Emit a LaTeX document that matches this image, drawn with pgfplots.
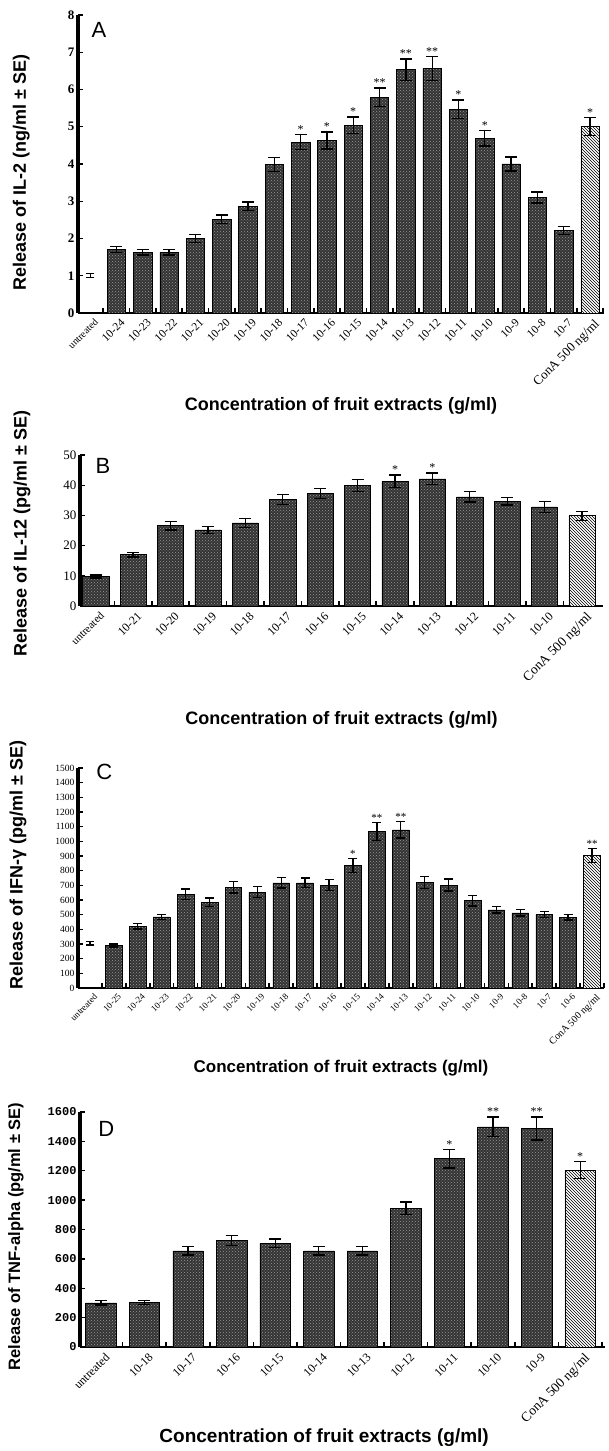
\documentclass[border=0pt]{standalone}
\usepackage{pgfplots}
\pgfplotsset{compat=1.18}
\usepackage{pgfplotstable}
\usetikzlibrary{patterns}
\usepackage{fontspec}
\setmainfont{Liberation Serif}
\setsansfont{Liberation Sans}
\setmonofont{Liberation Mono}

\newcommand{\fs}[1]{\fontsize{#1}{#1}\selectfont}
\newcommand{\labfont}{\fontsize{18}{18}\selectfont\sffamily\bfseries}
\newcommand{\letfont}{\fontsize{22}{22}\selectfont\sffamily}

\pgfplotsset{
  common/.style={scale only axis, anchor=south west, clip=false, enlargelimits=false,
    axis x line*=bottom, axis y line*=left,
    axis line style={-},
    x axis line style={line width=2.5pt},
    y axis line style={line width=3.5pt},
    every outer x axis line/.append style={-}, every outer y axis line/.append style={-},
    tick align=inside,
    major x tick style={draw=none},
    minor x tick style={line width=1.6pt, black},
    minor tick length=4.5pt,
    major y tick style={line width=1.3pt, black},
    major tick length=5pt,
    /pgf/number format/assume math mode=true,
    /pgf/number format/1000 sep={},
    x tick label style={rotate=45, anchor=north east, inner sep=1pt, yshift=-5pt},
  },
  darkbar/.style={ybar, bar width=0.7, bar shift=0pt, draw=black, line width=0.6pt, fill=black!80,
    postaction={pattern=crosshatch dots, pattern color=black!40},
    error bars/.cd, y dir=both, y explicit,
    error bar style={line width=1.3pt, draw=black},
    error mark options={rotate=90, mark size=#1, line width=1.3pt, draw=black}},
  conabar/.style={ybar, bar width=0.7, bar shift=0pt, draw=black, line width=0.6pt, fill=white,
    postaction={pattern=north west lines, pattern color=black},
    error bars/.cd, y dir=both, y explicit,
    error bar style={line width=1.3pt, draw=black},
    error mark options={rotate=90, mark size=#1, line width=1.3pt, draw=black}},
  hbar/.style={draw=none, mark=none,
    error bars/.cd, y dir=both, y explicit,
    error bar style={line width=1.2pt, draw=black},
    error mark options={rotate=90, mark size=4pt, line width=1.2pt, draw=black}},
  starsty/.style={draw=none, mark=none, nodes near coords, point meta=explicit symbolic,
    nodes near coords style={anchor=south, inner sep=1pt, font=#1}},
}

% ---------- Panel A (IL-2) ----------
\pgfplotstableread{
x y e
1 1.70 0.08
2 1.63 0.07
3 1.63 0.07
4 2.00 0.10
5 2.52 0.11
6 2.87 0.11
7 3.98 0.19
8 4.59 0.20
9 4.63 0.23
10 5.04 0.22
11 5.79 0.25
12 6.53 0.29
13 6.57 0.32
14 5.47 0.25
15 4.69 0.21
16 4.00 0.19
17 3.10 0.15
18 2.22 0.11
}\barsA
\pgfplotstableread{
x y s
8 4.79 *
9 4.86 *
10 5.26 *
11 6.04 **
12 6.82 **
13 6.89 **
14 5.72 *
15 4.90 *
19 5.25 *
}\starsA

% ---------- Panel B (IL-12) ----------
\pgfplotstableread{
x y e
0 9.8 0.5
1 17.0 0.8
2 26.6 1.4
3 25.2 1.1
4 27.5 1.4
5 35.3 1.6
6 37.2 1.7
7 40.0 2.0
8 41.3 2.1
9 42.1 1.9
10 36.1 1.7
11 34.7 1.3
12 32.8 1.8
}\barsB
\pgfplotstableread{
x y s
8 43.4 *
9 44.0 *
}\starsB

% ---------- Panel C (IFN-gamma) ----------
\pgfplotstableread{
x y e
1 290 10
2 420 18
3 485 18
4 640 35
5 584 29
6 687 39
7 654 37
8 716 35
9 716 33
10 702 37
11 835 48
12 1068 60
13 1078 56
14 718 41
15 702 41
16 595 35
17 533 22
18 512 22
19 500 20
20 481 18
}\barsC
\pgfplotstableread{
x y s
11 883 *
12 1128 **
13 1134 **
21 952 **
}\starsC

% ---------- Panel D (TNF-alpha) ----------
\pgfplotstableread{
x y e
0 300 15
1 304 14
2 654 28
3 725 35
4 706 30
5 654 28
6 654 28
7 946 42
8 1282 64
9 1499 66
10 1487 78
}\barsD
\pgfplotstableread{
x y s
8 1346 *
9 1565 **
10 1565 **
11 1264 *
}\starsD

\begin{document}
\begin{tikzpicture}
\useasboundingbox (0pt,0pt) rectangle (608pt,1451pt);

% ===== A =====
\begin{axis}[common, at={(78pt,1138pt)}, width=526pt, height=298pt,
  xmin=-0.46, xmax=19.53, ymin=0, ymax=8,
  ytick={0,...,8},
  y tick label style={font=\fs{13}\bfseries},
  xtick={0,...,19}, minor xtick={0.5,1.5,...,19.5},
  xticklabels={{\fs{10}untreated},10-24,10-23,10-22,10-21,10-20,10-19,10-18,10-17,10-16,10-15,10-14,10-13,10-12,10-11,10-10,10-9,10-8,10-7,{\fs{13}ConA 500 ng/ml}},
  x tick label style={font=\fs{11.5}},
  every axis y label/.style={at={(axis description cs:-0.108,0.47)}, rotate=90, anchor=center, font=\labfont},
  every axis x label/.style={at={(axis description cs:0.5,-0.312)}, anchor=center, font=\labfont},
  ylabel={Release of IL-2 (ng/ml ± SE)},
  xlabel={Concentration of fruit extracts (g/ml)},
]
\addplot[darkbar=6pt] table[x=x, y=y, y error=e] {\barsA};
\addplot[conabar=6pt] coordinates {(19,5.01) +- (0,0.24)};
\addplot[hbar] coordinates {(0,1.0) +- (0,0.05)};
\addplot[starsty={\fs{12}}] table[x=x, y=y, meta=s] {\starsA};
\node[font=\letfont] at (rel axis cs:0.04,0.95) {A};
\end{axis}

% ===== B =====
\begin{axis}[common, at={(80pt,845pt)}, width=523pt, height=151pt,
  xmin=-0.42, xmax=13.56, ymin=0, ymax=50,
  ytick={0,10,...,50},
  y tick label style={font=\fs{13}},
  xtick={0,...,13}, minor xtick={0.5,1.5,...,12.5},
  xticklabels={{\fs{11}untreated},10-21,10-20,10-19,10-18,10-17,10-16,10-15,10-14,10-13,10-12,10-11,10-10,{\fs{13.5}ConA 500 ng/ml}},
  x tick label style={font=\fs{12}},
  every axis y label/.style={at={(axis description cs:-0.111,0.48)}, rotate=90, anchor=center, font=\labfont},
  every axis x label/.style={at={(axis description cs:0.5,-0.755)}, anchor=center, font=\labfont},
  ylabel={Release of IL-12 (pg/ml ± SE)},
  xlabel={Concentration of fruit extracts (g/ml)},
]
\addplot[darkbar=6pt] table[x=x, y=y, y error=e] {\barsB};
\addplot[conabar=6pt] coordinates {(13,29.9) +- (0,1.5)};
\addplot[starsty={\fs{12}}] table[x=x, y=y, meta=s] {\starsB};
\node[font=\letfont] at (rel axis cs:0.044,0.93) {B};
\end{axis}

% ===== C =====
\begin{axis}[common, at={(78pt,463pt)}, width=526pt, height=220pt,
  xmin=-0.5, xmax=21.5, ymin=0, ymax=1500,
  ytick={0,100,...,1500},
  y tick label style={font=\fs{9.5}},
  xtick={0,...,21}, minor xtick={0.5,1.5,...,21.5},
  xticklabels={untreated,10-25,10-24,10-23,10-22,10-21,10-20,10-19,10-18,10-17,10-16,10-15,10-14,10-13,10-12,10-11,10-10,10-9,10-8,10-7,10-6,{\fs{10}ConA 500 ng/ml}},
  x tick label style={font=\fs{9}},
  every axis y label/.style={at={(axis description cs:-0.114,0.56)}, rotate=90, anchor=center, font=\labfont},
  every axis x label/.style={at={(axis description cs:0.5,-0.364)}, anchor=center, font=\fontsize{17}{17}\selectfont\sffamily\bfseries},
  ylabel={Release of IFN-γ (pg/ml ± SE)},
  xlabel={Concentration of fruit extracts (g/ml)},
]
\addplot[darkbar=4.5pt] table[x=x, y=y, y error=e] {\barsC};
\addplot[conabar=4.5pt] coordinates {(21,903) +- (0,49)};
\addplot[hbar] coordinates {(0,305) +- (0,12)};
\addplot[starsty={\fs{11}}] table[x=x, y=y, meta=s] {\starsC};
\node[font=\letfont] at (rel axis cs:0.05,0.98) {C};
\end{axis}

% ===== D =====
\begin{axis}[common, at={(80pt,104pt)}, width=525pt, height=235pt,
  xmin=-0.48, xmax=11.57, ymin=0, ymax=1600,
  ytick={0,200,...,1600},
  y tick label style={font=\fs{12}\ttfamily\bfseries},
  xtick={0,...,11}, minor xtick={0.5,1.5,...,11.5},
  xticklabels={untreated,10-18,10-17,10-16,10-15,10-14,10-13,10-12,10-11,10-10,10-9,{\fs{13.5}ConA 500 ng/ml}},
  x tick label style={font=\fs{12}},
  every axis y label/.style={at={(axis description cs:-0.122,0.47)}, rotate=90, anchor=center, font=\fontsize{16.5}{16.5}\selectfont\sffamily\bfseries},
  every axis x label/.style={at={(axis description cs:0.465,-0.387)}, anchor=center, font=\fontsize{19}{19}\selectfont\sffamily\bfseries},
  ylabel={Release of TNF-alpha (pg/ml ± SE)},
  xlabel={Concentration of fruit extracts (g/ml)},
]
\addplot[darkbar=6pt] table[x=x, y=y, y error=e] {\barsD};
\addplot[conabar=6pt] coordinates {(11,1205) +- (0,59)};
\addplot[starsty={\fs{12}}] table[x=x, y=y, meta=s] {\starsD};
\node[font=\letfont] at (rel axis cs:0.05,0.93) {D};
\end{axis}
\end{tikzpicture}
\end{document}
